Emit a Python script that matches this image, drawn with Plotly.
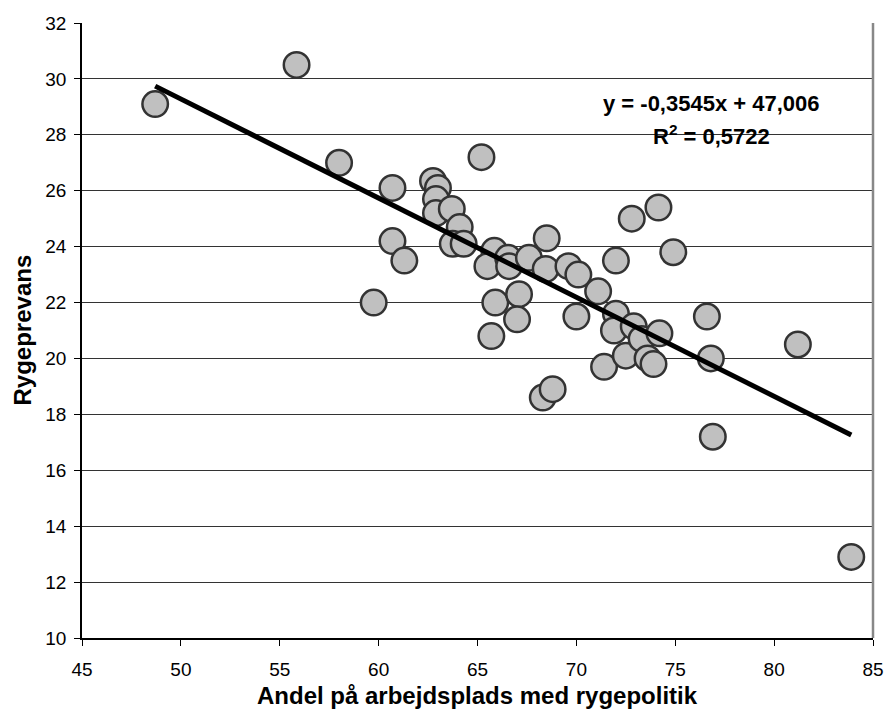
import plotly.graph_objects as go

# Data
andel = [48.7, 55.85, 58.0, 59.75, 60.7, 60.7, 61.3, 62.75, 63.0, 62.9, 62.9, 63.7,
         64.1, 63.75, 64.3, 65.2, 65.85, 65.5, 65.9, 66.55, 66.6, 65.7, 67.1, 67.0,
         67.6, 68.5, 68.45, 68.3, 68.8, 69.6, 70.1, 70.0, 71.1, 71.4, 72.0, 72.0,
         71.9, 72.5, 72.8, 72.9, 73.3, 73.6, 73.9, 74.15, 74.2, 74.9, 76.6, 76.8,
         76.9, 81.2, 83.9]
rygeprevalens = [29.1, 30.5, 27.0, 22.0, 26.1, 24.2, 23.5, 26.35, 26.1, 25.7, 25.2, 25.35,
                 24.7, 24.1, 24.1, 27.2, 23.85, 23.3, 22.0, 23.6, 23.3, 20.8, 22.3, 21.4,
                 23.6, 24.3, 23.2, 18.6, 18.9, 23.3, 23.0, 21.5, 22.4, 19.7, 23.5, 21.6,
                 21.0, 20.1, 25.0, 21.15, 20.7, 20.0, 19.8, 25.4, 20.9, 23.8, 21.5, 20.0,
                 17.2, 20.5, 12.9]

trend_slope = -0.3545
trend_intercept = 47.006
eq_text = "y = -0,3545x + 47,006"
r2_text = "R<sup>2</sup> = 0,5722"

x_ticks = [45, 50, 55, 60, 65, 70, 75, 80, 85]
y_ticks = [10, 12, 14, 16, 18, 20, 22, 24, 26, 28, 30, 32]

x_title = "Andel på arbejdsplads med rygepolitik"
y_title = "Rygeprevans"

FONT = "Liberation Sans, Arial, sans-serif"

tx = [min(andel), max(andel)]
ty = [trend_slope * v + trend_intercept for v in tx]

fig = go.Figure()
fig.add_trace(go.Scatter(
    x=andel, y=rygeprevalens, mode="markers",
    marker=dict(size=25.5, color="#C0C0C0", line=dict(color="#333333", width=2.5)),
    showlegend=False, hoverinfo="x+y"))
fig.add_trace(go.Scatter(
    x=tx, y=ty, mode="lines", line=dict(color="black", width=5),
    showlegend=False, hoverinfo="skip"))

fig.update_layout(
    width=887, height=718,
    margin=dict(l=82, r=14, t=23, b=80),
    paper_bgcolor="white", plot_bgcolor="white",
    font=dict(family=FONT, size=19, color="black"),
    xaxis=dict(
        range=[45, 85], tickvals=x_ticks, ticktext=[str(v) for v in x_ticks],
        showgrid=False, zeroline=False, automargin=False,
        showline=True, linecolor="black", linewidth=1.5,
        ticks="outside", ticklen=6, tickcolor="black", tickwidth=1,
        ticklabelstandoff=7,
    ),
    yaxis=dict(
        range=[10, 32], tickvals=y_ticks, ticktext=[str(v) for v in y_ticks],
        showgrid=True, gridcolor="#333333", gridwidth=1, zeroline=False, automargin=False,
        showline=True, linecolor="black", linewidth=1.5,
        ticks="outside", ticklen=6, tickcolor="black", tickwidth=1,
        ticklabelstandoff=4,
    ),
    shapes=[dict(type="line", xref="paper", yref="paper", x0=1, x1=1, y0=0, y1=1,
                 line=dict(color="#888888", width=2.5))],
    annotations=[
        dict(x=76.83, y=29.12, xref="x", yref="y", text="<b>" + eq_text + "</b>",
             showarrow=False, font=dict(size=22), xanchor="center", yanchor="middle"),
        dict(x=76.83, y=27.99, xref="x", yref="y", text="<b>" + r2_text + "</b>",
             showarrow=False, font=dict(size=22), xanchor="center", yanchor="middle"),
        dict(x=0.5, y=0, xref="paper", yref="paper", yshift=-57,
             text="<b>" + x_title + "</b>", showarrow=False,
             font=dict(size=24), xanchor="center", yanchor="middle"),
        dict(x=0, y=0.5, xref="paper", yref="paper", xshift=-60, textangle=-90,
             text="<b>" + y_title + "</b>", showarrow=False,
             font=dict(size=24), xanchor="center", yanchor="middle"),
    ],
)

fig.write_html("out.html", config={"displayModeBar": False},
               post_script="document.body.style.margin='0';")
